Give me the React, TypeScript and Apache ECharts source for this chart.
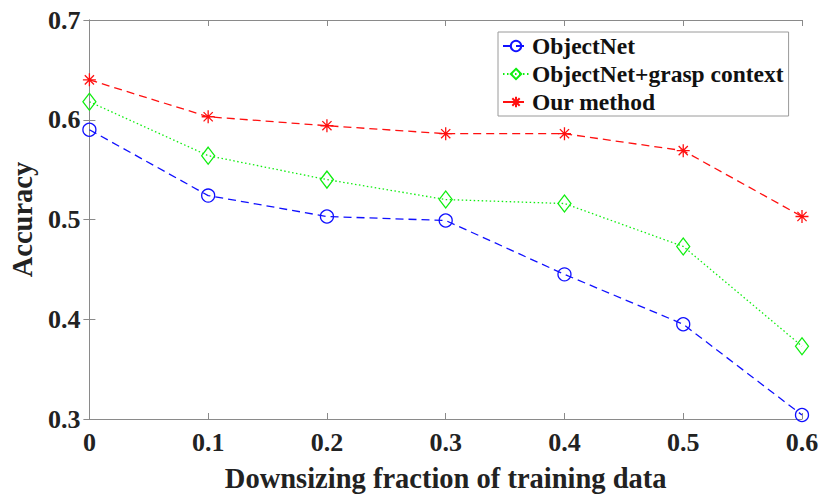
import React, { useEffect, useRef } from "react";
import * as echarts from "echarts";

const xValues = [0, 0.1, 0.2, 0.3, 0.4, 0.5, 0.6];
const objectNet = [0.59, 0.524, 0.503, 0.499, 0.445, 0.395, 0.304];
const graspContext = [0.618, 0.564, 0.54, 0.52, 0.516, 0.473, 0.373];
const ourMethod = [0.64, 0.603, 0.594, 0.586, 0.586, 0.569, 0.503];
const seriesNames = ["ObjectNet", "ObjectNet+grasp context", "Our method"];

const FONT = "'Liberation Serif', 'Times New Roman', serif";
const AXIS_GRAY = "#8a8a8a";
const ASTERISK =
  "path://M10,0L10,20M0,10L20,10M2.93,2.93L17.07,17.07M2.93,17.07L17.07,2.93";

const pairs = (ys: number[]) => xValues.map((x, i) => [x, ys[i]]);

export default function App() {
  const ref = useRef<HTMLDivElement>(null);
  useEffect(() => {
    if (!ref.current) return;
    document.body.style.margin = "0";
    const chart = echarts.init(ref.current, undefined, { renderer: "svg" });
    const tickLabel = {
      fontFamily: FONT,
      fontWeight: "bold" as const,
      fontSize: 26,
      color: "#222",
    };
    const hiddenAxisCommon = {
      axisLine: { show: true, lineStyle: { color: AXIS_GRAY, width: 1 } },
      axisTick: { show: true, inside: true, length: 6, lineStyle: { color: AXIS_GRAY } },
      axisLabel: { show: false },
      splitLine: { show: false },
    };
    chart.setOption({
      animation: false,
      backgroundColor: "#fff",
      grid: { left: 83, right: 28, top: 20, bottom: 80, containLabel: false },
      legend: {
        orient: "vertical",
        left: 498,
        top: 32,
        data: seriesNames,
        backgroundColor: "#fff",
        borderColor: "#9a9a9a",
        borderWidth: 1,
        padding: [2, 5, 2, 4],
        itemGap: 4,
        itemWidth: 26,
        itemHeight: 13,
        textStyle: { fontFamily: FONT, fontWeight: "bold", fontSize: 23.5, color: "#111", padding: [0, 0, 0, -2] },
      },
      xAxis: [
        {
          type: "value",
          min: 0,
          max: 0.6,
          interval: 0.1,
          name: "Downsizing fraction of training data",
          nameLocation: "middle",
          nameGap: 45,
          nameTextStyle: { fontFamily: FONT, fontWeight: "bold", fontSize: 28.5, color: "#222" },
          axisLine: { show: true, lineStyle: { color: AXIS_GRAY, width: 1 } },
          axisTick: { show: true, inside: true, length: 6, lineStyle: { color: AXIS_GRAY } },
          axisLabel: { ...tickLabel, margin: 10, formatter: (v: number) => (v === 0 ? "0" : v.toFixed(1)) },
          splitLine: { show: false },
        },
        { type: "value", position: "top", min: 0, max: 0.6, interval: 0.1, ...hiddenAxisCommon },
      ],
      yAxis: [
        {
          type: "value",
          min: 0.3,
          max: 0.7,
          interval: 0.1,
          name: "Accuracy",
          nameLocation: "middle",
          nameGap: 44,
          nameTextStyle: { fontFamily: FONT, fontWeight: "bold", fontSize: 28.5, color: "#222" },
          axisLine: { show: true, lineStyle: { color: AXIS_GRAY, width: 1 } },
          axisTick: { show: true, inside: true, length: 6, lineStyle: { color: AXIS_GRAY } },
          axisLabel: { ...tickLabel, margin: 9, formatter: (v: number) => v.toFixed(1) },
          splitLine: { show: false },
        },
        { type: "value", position: "right", min: 0.3, max: 0.7, interval: 0.1, ...hiddenAxisCommon },
      ],
      series: [
        {
          name: seriesNames[0],
          type: "line",
          data: pairs(objectNet),
          symbol: "circle",
          symbolSize: 13,
          lineStyle: { color: "#1010ff", width: 1.3, type: [8, 5] },
          itemStyle: { color: "none", borderColor: "#1010ff", borderWidth: 1.3 },
        },
        {
          name: seriesNames[1],
          type: "line",
          data: pairs(graspContext),
          symbol: "diamond",
          symbolSize: [13, 17],
          lineStyle: { color: "#10ee10", width: 1.3, type: [1.5, 2.5] },
          itemStyle: { color: "none", borderColor: "#10ee10", borderWidth: 1.3 },
        },
        {
          name: seriesNames[2],
          type: "line",
          data: pairs(ourMethod),
          symbol: ASTERISK,
          symbolSize: 13,
          lineStyle: { color: "#ff1010", width: 1.3, type: [8, 5] },
          itemStyle: { color: "none", borderColor: "#ff1010", borderWidth: 1.3 },
        },
      ],
    });
    return () => chart.dispose();
  }, []);
  return <div ref={ref} style={{ width: 830, height: 499 }} />;
}
